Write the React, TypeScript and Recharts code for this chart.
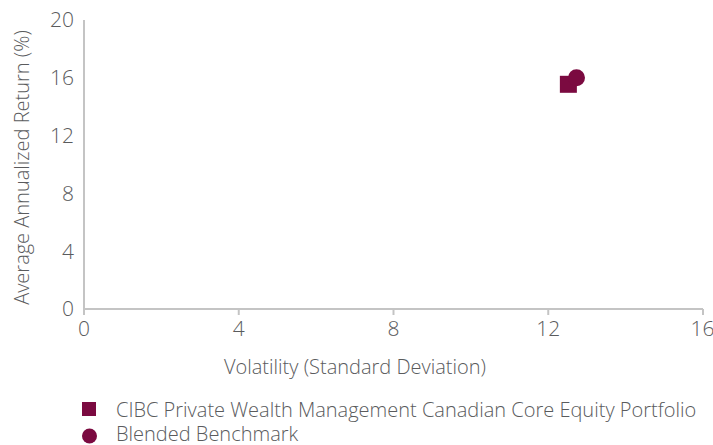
import React from 'react';
import { ScatterChart, Scatter, XAxis, YAxis, Legend } from 'recharts';

const seriesNames = [
  'CIBC Private Wealth Management Canadian Core Equity Portfolio',
  'Blended Benchmark',
];
const volatility = [12.52, 12.73];
const annualReturn = [15.55, 16.0];
const xTicks = [0, 4, 8, 12, 16];
const yTicks = [0, 4, 8, 12, 16, 20];

const COLOR = '#7b0a40';
const TEXT = '#5a5b5d';
const AXIS = '#c4c4c4';
const FONT = '"Open Sans", sans-serif';
const FW = 300;

const portfolioData = [{ x: volatility[0], y: annualReturn[0] }];
const benchmarkData = [{ x: volatility[1], y: annualReturn[1] }];

const SquareShape = (props: any) => {
  const { cx, cy } = props;
  const s = 17;
  return <rect x={cx - s / 2} y={cy - s / 2} width={s} height={s} fill={COLOR} />;
};

const CircleShape = (props: any) => {
  const { cx, cy } = props;
  return <circle cx={cx} cy={cy} r={8.5} fill={COLOR} />;
};

const LegendContent = () => (
  <svg width={630} height={44} style={{ display: 'block', overflow: 'visible' }}>
    <rect x={0} y={2} width={14} height={14} fill={COLOR} />
    <text x={34} y={9} dominantBaseline="central" fontFamily={FONT} fontWeight={FW} fontSize={20} fill={TEXT}>
      {seriesNames[0]}
    </text>
    <circle cx={7.5} cy={36} r={7.5} fill={COLOR} />
    <text x={34} y={33} dominantBaseline="central" fontFamily={FONT} fontWeight={FW} fontSize={20} fill={TEXT}>
      {seriesNames[1]}
    </text>
  </svg>
);

const XTitle = (props: any) => {
  const vb = props.viewBox || {};
  return (
    <text x={355} y={vb.y + 57} textAnchor="middle" dominantBaseline="central" fontFamily={FONT} fontWeight={FW} fontSize={20} fill={TEXT}>
      Volatility (Standard Deviation)
    </text>
  );
};

const YTitle = (props: any) => {
  const vb = props.viewBox || {};
  const cy = vb.y + vb.height / 2 + 3;
  return (
    <text x={21} y={cy} transform={`rotate(-90, 21, ${cy})`} textAnchor="middle" dominantBaseline="central" fontFamily={FONT} fontWeight={FW} fontSize={20} fill={TEXT}>
      Average Annualized Return (%)
    </text>
  );
};

export default function App() {
  return (
    <div style={{ position: 'absolute', left: 0, top: 0, width: 713, height: 445, background: '#fff' }}>
      <ScatterChart width={713} height={445} margin={{ top: 20, right: 10, bottom: 0, left: 0 }}>
        <XAxis
          type="number"
          dataKey="x"
          domain={[0, 16]}
          ticks={xTicks}
          height={136}
          axisLine={{ stroke: AXIS, strokeWidth: 2 }}
          tickLine={{ stroke: AXIS, strokeWidth: 2 }}
          tickSize={6}
          tickMargin={6}
          tick={{ fill: TEXT, fontSize: 21, fontFamily: FONT, fontWeight: FW }}
          label={<XTitle />}
        />
        <YAxis
          type="number"
          dataKey="y"
          domain={[0, 20]}
          ticks={yTicks}
          width={84}
          axisLine={{ stroke: AXIS, strokeWidth: 2 }}
          tickLine={false}
          tickSize={6}
          tickMargin={4}
          tick={{ fill: TEXT, fontSize: 21, fontFamily: FONT, fontWeight: FW }}
          label={<YTitle />}
        />
        <Legend
          layout="horizontal"
          verticalAlign="middle"
          align="center"
          wrapperStyle={{ position: 'absolute', left: 82, top: 400, width: 630, height: 44 }}
          content={<LegendContent />}
        />
        <Scatter name={seriesNames[0]} data={portfolioData} fill={COLOR} shape={<SquareShape />} isAnimationActive={false} />
        <Scatter name={seriesNames[1]} data={benchmarkData} fill={COLOR} shape={<CircleShape />} isAnimationActive={false} />
      </ScatterChart>
    </div>
  );
}
